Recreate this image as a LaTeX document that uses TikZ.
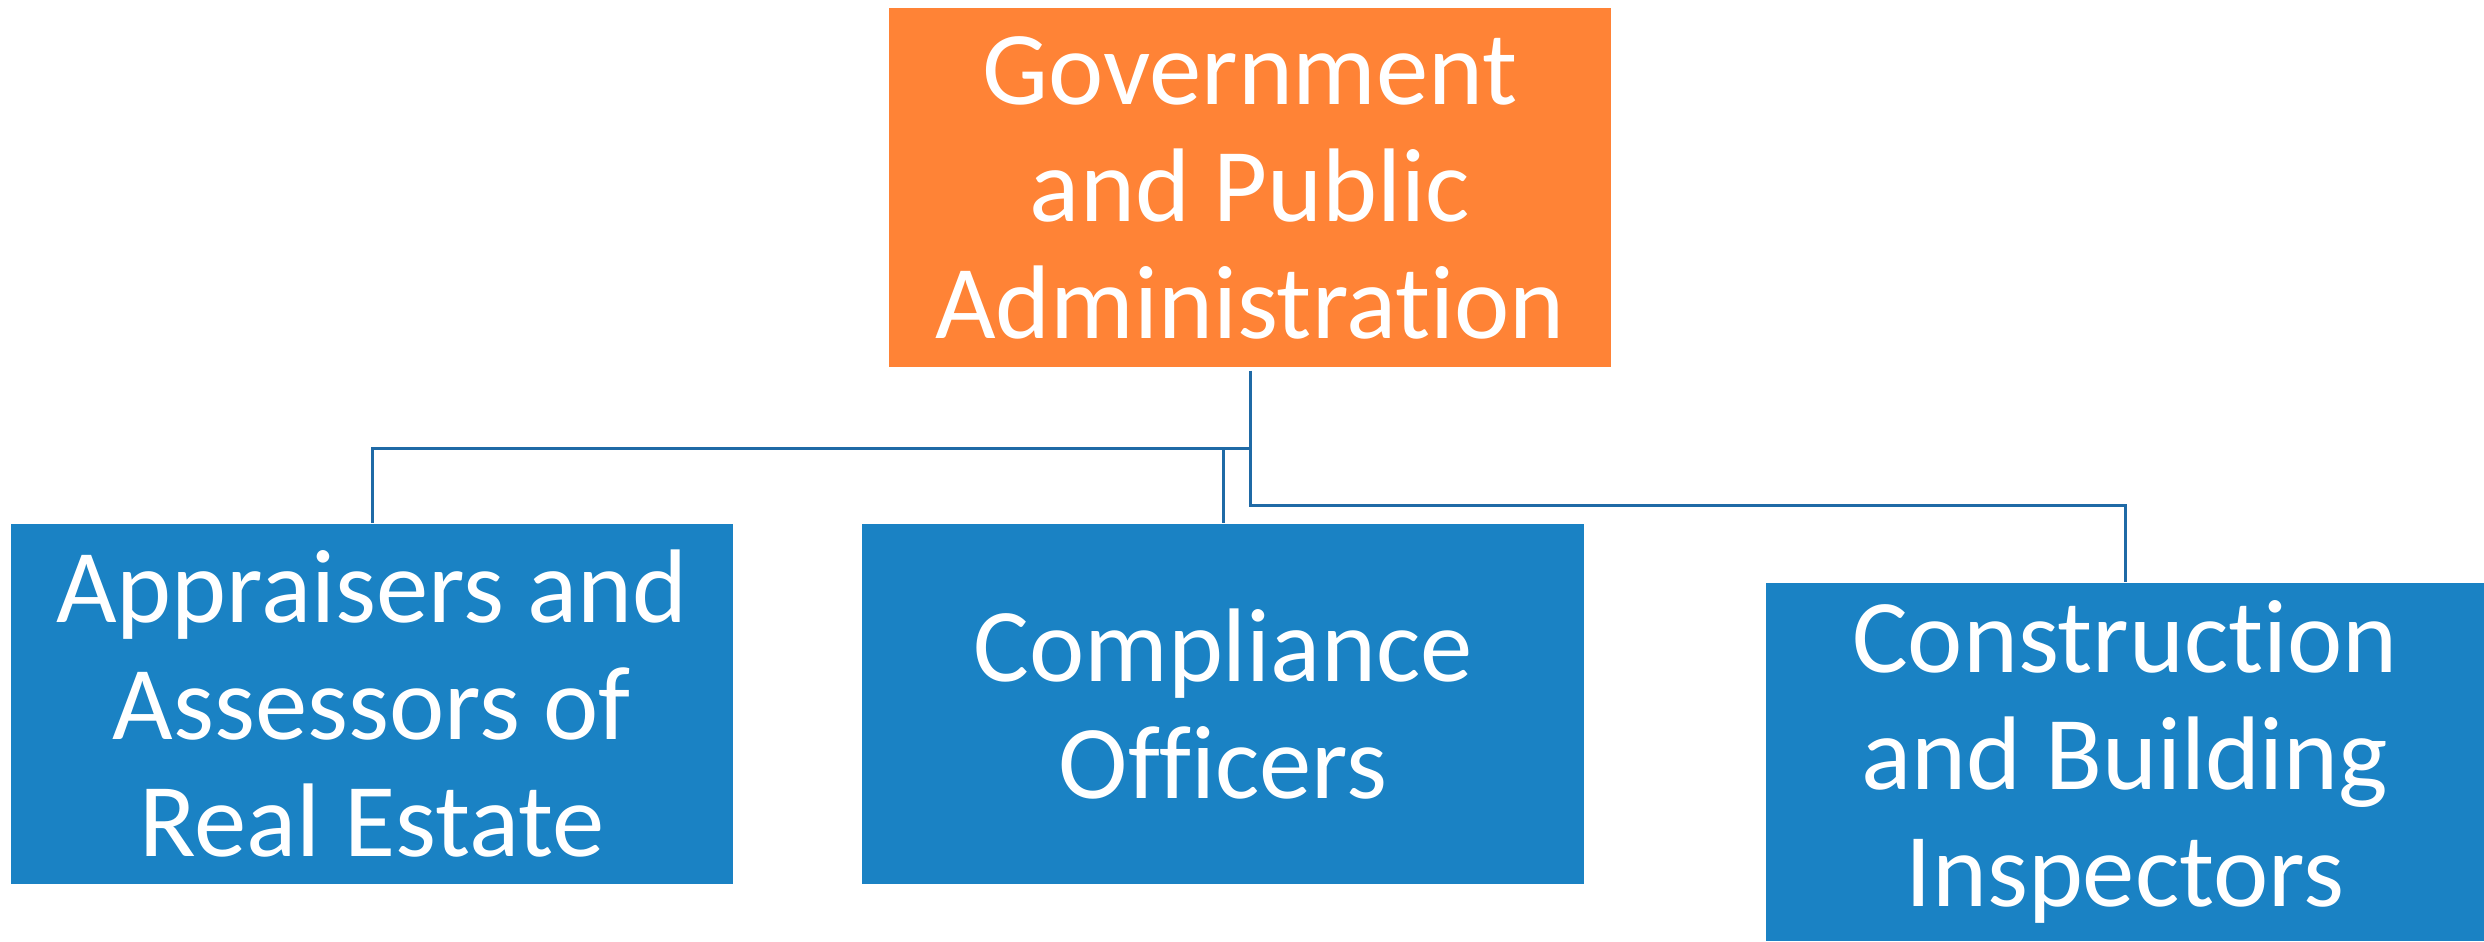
\documentclass[tikz,border=0pt]{standalone}
\usepackage{fontspec}
\setmainfont{Carlito}[Ligatures=NoCommon]
\definecolor{topfill}{HTML}{FF8336}
\definecolor{boxfill}{HTML}{1A82C4}
\definecolor{linecol}{HTML}{1F6AA6}
\tikzset{
  box/.style={fill=#1, draw=none, text=white, align=center, inner sep=0pt,
    font=\fontsize{31.4pt}{35.1pt}\selectfont},
  conn/.style={draw=linecol, line width=0.9pt}
}
\begin{document}
\begin{tikzpicture}[x=0.3pt,y=-0.3pt]
\useasboundingbox (0,0) rectangle (2484,941);
\node[box=topfill, minimum width=216.6pt, minimum height=107.7pt] (top) at (1250,187.5) {Government\\and Public\\Administration};
\node[box=boxfill, minimum width=216.6pt, minimum height=108pt] (app) at (372,704) {Appraisers and\\Assessors of\\Real Estate};
\node[box=boxfill, minimum width=216.6pt, minimum height=108pt] (comp) at (1223,704) {Compliance\\Officers};
\node[box=boxfill, minimum width=215.4pt, minimum height=107.4pt] (cons) at (2125,762) {Construction\\and Building\\Inspectors};
\coordinate (j) at (1250,448);
\coordinate (k) at (1250,505);
\draw[conn] ([yshift=-0.9pt]top.south) -- (j) -| (app.north);
\draw[conn] (j) -| (comp.north);
\draw[conn] (j) -- (k) -| (cons.north);
\end{tikzpicture}
\end{document}
